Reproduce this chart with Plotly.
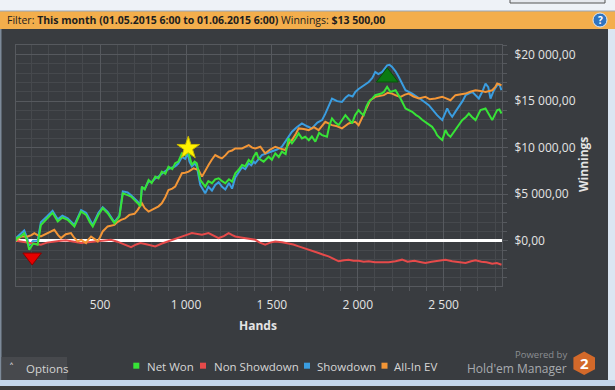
import plotly.graph_objects as go

# ---------------- data ----------------
net_hands = [10, 16, 40, 58, 75, 87, 110, 136, 155, 190, 223, 253, 280, 311, 350, 389, 418, 440, 457, 490,
             515, 544, 583, 612, 632, 660, 680, 719, 734, 743, 760, 782, 800, 821, 840, 859, 880, 898, 920,
             937, 955, 976, 995, 1010, 1020, 1034, 1050, 1063, 1083, 1112, 1130, 1151, 1170, 1190, 1210,
             1229, 1250, 1268, 1287, 1305, 1326, 1345, 1365, 1380, 1394, 1410, 1422, 1452, 1481, 1500, 1520,
             1540, 1558, 1580, 1597, 1617, 1635, 1656, 1675, 1694, 1715, 1733, 1753, 1775, 1792, 1821, 1835,
             1850, 1870, 1889, 1910, 1928, 1950, 1967, 1985, 2005, 2020, 2035, 2050, 2064, 2085, 2102, 2137,
             2152, 2171, 2190, 2220, 2249, 2278, 2300, 2317, 2340, 2356, 2375, 2394, 2415, 2433, 2450, 2462,
             2480, 2492, 2511, 2525, 2540, 2569, 2590, 2608, 2630, 2647, 2665, 2686, 2700, 2715, 2744, 2765,
             2783, 2800, 2812, 2825, 2837]
net_won = [0, 300, 500, 800, 0, -960, -300, -430, 1700, 2400, 3000, 2070, 2500, 2250, 1540, 3140, 2780, 2000,
           1540, 2800, 3500, 2960, 1890, 2600, 5100, 4900, 4750, 4030, 3680, 5820, 5500, 6530, 6200, 6890,
           6700, 7430, 7200, 7960, 7700, 8320, 8500, 9390, 9210, 9800, 9000, 8140, 8500, 8320, 6530, 5820,
           6400, 6180, 6600, 6710, 6400, 6180, 6600, 6350, 7250, 7600, 8140, 8000, 8680, 8400, 9030, 9500,
           8850, 8500, 9030, 8700, 9390, 9000, 9570, 9300, 11000, 10460, 10900, 11530, 11000, 11170, 10800,
           11200, 10640, 11600, 11350, 11170, 12400, 13140, 12700, 12420, 13000, 13490, 13000, 12600, 13500,
           14030, 13700, 13490, 14400, 14920, 15300, 15640, 15810, 15990, 16530, 15990, 16170, 15280, 14210,
           14000, 13850, 13500, 13320, 13000, 12780, 12500, 12240, 11800, 11350, 11000, 10820, 11890, 11400,
           11170, 11890, 12500, 12960, 13300, 13670, 13300, 12960, 13500, 14030, 14210, 13600, 12960, 13600,
           14030, 14100, 13670]

sd_hands = [10, 16, 58, 75, 87, 110, 136, 155, 190, 223, 253, 280, 311, 350, 389, 418, 457, 490, 515, 544,
            583, 612, 632, 660, 680, 719, 734, 743, 760, 782, 800, 821, 840, 859, 880, 898, 920, 937, 955,
            976, 995, 1010, 1020, 1034, 1050, 1063, 1083, 1112, 1130, 1151, 1170, 1190, 1210, 1229, 1250,
            1268, 1287, 1305, 1326, 1345, 1365, 1380, 1394, 1403, 1422, 1442, 1470, 1500, 1530, 1558, 1585,
            1617, 1645, 1675, 1705, 1733, 1765, 1792, 1810, 1830, 1850, 1880, 1908, 1930, 1947, 1970, 1986,
            2005, 2025, 2045, 2064, 2085, 2102, 2120, 2142, 2171, 2185, 2200, 2220, 2239, 2260, 2278, 2317,
            2345, 2375, 2414, 2440, 2462, 2492, 2505, 2521, 2535, 2550, 2570, 2589, 2610, 2628, 2667, 2705,
            2725, 2744, 2760, 2773, 2793, 2812, 2825, 2837]
showdown = [0, 400, 1100, 300, -500, 0, 0, 2000, 2600, 3200, 2300, 2700, 2400, 1700, 3300, 3000, 1700, 3000,
            3600, 3100, 2000, 2700, 5300, 5200, 4900, 4200, 3800, 5700, 5600, 6400, 6300, 6700, 6900, 7200,
            7500, 7700, 7900, 8000, 8300, 9000, 8800, 9400, 8500, 8000, 8300, 8000, 6000, 5100, 5800, 5400,
            6000, 6300, 5800, 5500, 6200, 5600, 6800, 7300, 7900, 7700, 8300, 8100, 8500, 8320, 8800, 9210,
            9400, 9570, 9800, 10100, 10900, 11710, 12200, 12600, 12300, 12070, 12700, 12960, 13600, 14390,
            15280, 15000, 14920, 15400, 15640, 15500, 15990, 16300, 16530, 16800, 17060, 17500, 18140, 17900,
            18140, 18850, 18900, 18670, 18200, 17600, 16800, 16170, 15810, 15500, 15100, 14570, 14000, 13490,
            12960, 13500, 14210, 13700, 13320, 13900, 14390, 15000, 15640, 15990, 15280, 16000, 16890, 16500,
            15280, 16170, 16710, 16800, 16170]

ev_hands = [10, 40, 78, 100, 117, 135, 155, 190, 233, 255, 272, 300, 330, 350, 369, 390, 418, 430, 447, 466,
            486, 500, 515, 544, 583, 600, 622, 645, 670, 700, 719, 743, 760, 782, 800, 821, 840, 859, 880,
            898, 920, 937, 955, 976, 995, 1015, 1044, 1073, 1093, 1110, 1131, 1150, 1170, 1190, 1209, 1230,
            1248, 1268, 1287, 1326, 1345, 1365, 1385, 1404, 1433, 1461, 1490, 1520, 1550, 1578, 1600, 1617,
            1640, 1656, 1685, 1714, 1745, 1772, 1790, 1811, 1830, 1850, 1880, 1908, 1925, 1947, 1965, 1986,
            2005, 2025, 2044, 2060, 2073, 2102, 2137, 2152, 2175, 2200, 2225, 2249, 2275, 2297, 2325, 2356,
            2394, 2420, 2453, 2492, 2515, 2540, 2569, 2600, 2628, 2655, 2686, 2715, 2744, 2783, 2800, 2812,
            2837]
all_in_ev = [0, 460, 460, 600, 820, 600, 460, 800, 1180, 600, 290, 700, 820, 300, -70, 100, -250, 100, 460,
             200, -70, 400, 1000, 1540, 1700, 2000, 2250, 2400, 2780, 2900, 3320, 4030, 3500, 3140, 3300,
             3500, 3700, 4030, 4700, 5460, 5600, 5820, 6500, 7250, 7300, 7430, 7780, 7600, 6890, 7500, 8140,
             8700, 9210, 9000, 8850, 9200, 9570, 9700, 9920, 9920, 10100, 10280, 10000, 9920, 10100, 9390,
             9800, 10100, 9900, 9750, 10500, 10820, 11500, 12070, 12000, 11890, 12200, 11890, 12300, 12780,
             12600, 12420, 12300, 12070, 12300, 12600, 12700, 12780, 12420, 13200, 14030, 14600, 15100, 15460,
             15640, 15640, 15900, 15810, 15600, 15460, 15700, 15810, 15500, 15280, 15460, 15200, 15280, 15460,
             15300, 15100, 15640, 15700, 15810, 16000, 16170, 16100, 15990, 16170, 16500, 16890, 16710]

nsd_hands = [10, 50, 97, 130, 155, 190, 233, 270, 300, 340, 389, 430, 466, 520, 563, 600, 622, 650, 680, 710,
             734, 762, 790, 821, 860, 898, 930, 956, 1000, 1034, 1065, 1093, 1131, 1160, 1190, 1220, 1248,
             1270, 1287, 1320, 1346, 1380, 1403, 1430, 1461, 1490, 1520, 1560, 1597, 1625, 1656, 1685, 1714,
             1745, 1772, 1800, 1830, 1860, 1889, 1920, 1947, 1975, 2005, 2035, 2064, 2100, 2137, 2180, 2220,
             2258, 2290, 2330, 2370, 2394, 2430, 2470, 2511, 2550, 2590, 2628, 2660, 2686, 2720, 2750, 2783,
             2810, 2837]
non_showdown = [0, -100, -250, -350, -430, -200, -70, 0, 50, -100, -250, -150, -70, 0, 100, -100, -250, -450,
                -680, -400, -250, -350, -450, -600, -300, -70, 100, 290, 600, 820, 700, 640, 820, 550, 290,
                500, 820, 600, 460, 350, 290, 200, 100, -200, -430, -200, -70, -150, -250, -400, -600, -800,
                -960, -1150, -1320, -1500, -1680, -1950, -2210, -2100, -2030, -2150, -2140, -2250, -2210,
                -2300, -2320, -2300, -2200, -2030, -2250, -2150, -2300, -2390, -2250, -2150, -2030, -2200,
                -2300, -2390, -2200, -2100, -2250, -2300, -2460, -2400, -2570]

# event markers: (hands, winnings)
star_pt = [1013, 9950]
low_pt = [104, -1750]
high_pt = [2172, 17560]

x_tickvals = [500, 1000, 1500, 2000, 2500]
x_ticktext = ["500", "1 000", "1 500", "2 000", "2 500"]
y_tickvals = [0, 5000, 10000, 15000, 20000]
y_ticktext = ["$0,00", "$5 000,00", "$10 000,00", "$15 000,00", "$20 000,00"]

series_names = ["Net Won", "Non Showdown", "Showdown", "All-In EV"]
series_colors = ["#37e337", "#e64a4a", "#3a9de0", "#f39636"]

# ---------------- styling helpers ----------------
W, H = 615, 390
ML, MR, MT, MB = 16, 113, 45, 104
PW = W - ML - MR
PH = H - MT - MB
FONT = "Open Sans"


def px(x):
    return (x - ML) / PW


def py(y):
    return (H - MB - y) / PH


BG = "#393c40"
GRID_MAJ = "#56595e"
GRID_MIN = "#46494d"
TXT = "#e4e4e4"

fig = go.Figure()

fig.add_trace(go.Scatter(x=sd_hands, y=showdown, mode="lines", name="Showdown",
                         line=dict(color=series_colors[2], width=2), showlegend=False))
fig.add_trace(go.Scatter(x=nsd_hands, y=non_showdown, mode="lines", name="Non Showdown",
                         line=dict(color=series_colors[1], width=2), showlegend=False))
fig.add_trace(go.Scatter(x=ev_hands, y=all_in_ev, mode="lines", name="All-In EV",
                         line=dict(color=series_colors[3], width=2), showlegend=False))
fig.add_trace(go.Scatter(x=net_hands, y=net_won, mode="lines", name="Net Won",
                         line=dict(color=series_colors[0], width=2), showlegend=False))

fig.add_trace(go.Scatter(x=[star_pt[0]], y=[star_pt[1]], mode="markers", showlegend=False,
                         marker=dict(symbol="star", size=17, color="#fff200",
                                     line=dict(color="#c9b800", width=1))))
fig.add_trace(go.Scatter(x=[low_pt[0]], y=[low_pt[1]], mode="markers", showlegend=False,
                         marker=dict(symbol="triangle-down", size=16, color="#e60000",
                                     line=dict(color="#8a0000", width=1))))
fig.add_trace(go.Scatter(x=[high_pt[0]], y=[high_pt[1]], mode="markers", showlegend=False,
                         marker=dict(symbol="triangle-up", size=19, color="#0b7a12",
                                     line=dict(color="#06500a", width=1))))

shapes = []
annotations = []

# window chrome / header
shapes.append(dict(type="rect", xref="paper", yref="paper", x0=px(0), x1=px(W), y0=py(11), y1=py(0),
                   fillcolor="#eef2f7", line=dict(width=0), layer="below"))
shapes.append(dict(type="rect", xref="paper", yref="paper", x0=px(0), x1=px(W), y0=py(29), y1=py(11),
                   fillcolor="#f3ae4c", line=dict(width=0), layer="below"))
shapes.append(dict(type="line", xref="paper", yref="paper", x0=px(0), x1=px(W), y0=py(11), y1=py(11),
                   line=dict(color="#9aa6b4", width=1)))
shapes.append(dict(type="rect", xref="paper", yref="paper", x0=px(510), x1=px(605), y0=py(3), y1=py(-2),
                   fillcolor="#e6e9ee", line=dict(color="#555", width=1)))
# help icon
shapes.append(dict(type="circle", xref="paper", yref="paper", x0=px(593), x1=px(607), y0=py(27), y1=py(13),
                   fillcolor="#2f74c0", line=dict(color="#dfe9f5", width=1)))
annotations.append(dict(xref="paper", yref="paper", x=px(600), y=py(20), text="<b>?</b>", showarrow=False,
                        font=dict(family=FONT, size=10, color="white"), xanchor="center", yanchor="middle"))
annotations.append(dict(xref="paper", yref="paper", x=px(5), y=py(20), xanchor="left", yanchor="middle",
                        showarrow=False,
                        text="Filter: <b>This month (01.05.2015 6:00 to 01.06.2015 6:00)</b> Winnings: <b>$13 500,00</b>",
                        font=dict(family=FONT, size=10.5, color="#1e1e1e")))

# window borders
shapes.append(dict(type="rect", xref="paper", yref="paper", x0=px(608), x1=px(W), y0=py(386), y1=py(29),
                   fillcolor="#dbe6f2", line=dict(width=0)))
shapes.append(dict(type="rect", xref="paper", yref="paper", x0=px(0), x1=px(W), y0=py(386), y1=py(380),
                   fillcolor="#c4d6ea", line=dict(width=0)))
shapes.append(dict(type="rect", xref="paper", yref="paper", x0=px(0), x1=px(W), y0=py(H), y1=py(386),
                   fillcolor="#3b3b3b", line=dict(width=0)))
shapes.append(dict(type="rect", xref="paper", yref="paper", x0=px(0), x1=px(1.5), y0=py(380), y1=py(29),
                   fillcolor="#7d8a99", line=dict(width=0)))

# options box
shapes.append(dict(type="rect", xref="paper", yref="paper", x0=px(1.5), x1=px(67), y0=py(380), y1=py(357),
                   fillcolor="#47494d", line=dict(width=0)))
annotations.append(dict(xref="paper", yref="paper", x=px(11), y=py(367), text="˄", showarrow=False,
                        font=dict(family="DejaVu Sans", size=10, color="#d0d0d0"), xanchor="center",
                        yanchor="middle"))
annotations.append(dict(xref="paper", yref="paper", x=px(24), y=py(368), text="Options", showarrow=False,
                        font=dict(family=FONT, size=11.5, color="#d4d4d4"), xanchor="left", yanchor="middle"))

# legend (squares + labels)
leg_sq_x = [136.3, 203, 307, 384.5]
leg_txt_x = [145, 211.5, 315, 392]
for name, col, sx, tx in zip(series_names, series_colors, leg_sq_x, leg_txt_x):
    shapes.append(dict(type="rect", xref="paper", yref="paper", x0=px(sx - 3), x1=px(sx + 3),
                       y0=py(368.7), y1=py(362.7), fillcolor=col, line=dict(width=0)))
    annotations.append(dict(xref="paper", yref="paper", x=px(tx), y=py(366.7), text=name, showarrow=False,
                            font=dict(family=FONT, size=11.5, color="#d6d6d6"), xanchor="left",
                            yanchor="middle"))

# branding
annotations.append(dict(xref="paper", yref="paper", x=px(568.5), y=py(355), text="Powered by", showarrow=False,
                        font=dict(family=FONT, size=9.5, color="#8b8e92"), xanchor="right", yanchor="middle"))
annotations.append(dict(xref="paper", yref="paper", x=px(568.5), y=py(368), text="Hold'em Manager",
                        showarrow=False, font=dict(family=FONT, size=12, color="#a8abaf"), xanchor="right",
                        yanchor="middle"))
hx, hy, rv, rh = 584.2, 363.3, 11.7, 10.8
verts = [(hx, hy - rv), (hx + rh, hy - rv / 2), (hx + rh, hy + rv / 2), (hx, hy + rv),
         (hx - rh, hy + rv / 2), (hx - rh, hy - rv / 2)]
path = "M " + " L ".join(f"{px(a):.5f},{py(b):.5f}" for a, b in verts) + " Z"
shapes.append(dict(type="path", xref="paper", yref="paper", path=path, fillcolor="#d3692a",
                   line=dict(width=0)))
annotations.append(dict(xref="paper", yref="paper", x=px(hx), y=py(hy), text="<b>2</b>", showarrow=False,
                        font=dict(family=FONT, size=15, color="white"), xanchor="center", yanchor="middle"))

# axis titles
annotations.append(dict(xref="paper", yref="paper", x=px(258), y=py(325), text="<b>Hands</b>", showarrow=False,
                        font=dict(family=FONT, size=12, color=TXT), xanchor="center", yanchor="middle"))
annotations.append(dict(xref="paper", yref="paper", x=px(583), y=py(165), text="<b>Winnings</b>",
                        showarrow=False, textangle=-90,
                        font=dict(family=FONT, size=12, color=TXT), xanchor="center", yanchor="middle"))

fig.update_layout(
    width=W, height=H,
    margin=dict(l=ML, r=MR, t=MT, b=MB, pad=0),
    paper_bgcolor=BG, plot_bgcolor=BG,
    showlegend=False,
    font=dict(family=FONT, size=12, color=TXT),
    shapes=shapes, annotations=annotations,
    xaxis=dict(range=[10, 2840], tickvals=x_tickvals, ticktext=x_ticktext,
               showgrid=True, gridcolor=GRID_MAJ, gridwidth=1,
               ticks="outside", ticklen=4, tickcolor=GRID_MAJ,
               showline=True, linecolor=GRID_MAJ, linewidth=1, mirror=True,
               zeroline=False, ticklabelstandoff=4,
               tickfont=dict(family=FONT, size=12, color=TXT),
               minor=dict(dtick=100, tick0=0, showgrid=True, gridcolor=GRID_MIN, gridwidth=1,
                          ticks="outside", ticklen=4, tickcolor=GRID_MAJ)),
    yaxis=dict(range=[-4860, 21030], side="right", tickvals=y_tickvals, ticktext=y_ticktext,
               showgrid=True, gridcolor=GRID_MAJ, gridwidth=1,
               ticks="outside", ticklen=5, tickcolor=GRID_MAJ,
               showline=True, linecolor=GRID_MAJ, linewidth=1, mirror=True,
               zeroline=True, zerolinecolor="#ffffff", zerolinewidth=2.5,
               ticklabelstandoff=4,
               tickfont=dict(family=FONT, size=12, color=TXT),
               minor=dict(dtick=1000, tick0=0, showgrid=True, gridcolor=GRID_MIN, gridwidth=1,
                          ticks="outside", ticklen=4, tickcolor=GRID_MAJ)),
)

fig.write_html("out.html",
               config={"displayModeBar": False},
               post_script="document.body.style.margin='0';document.body.style.padding='0';")
